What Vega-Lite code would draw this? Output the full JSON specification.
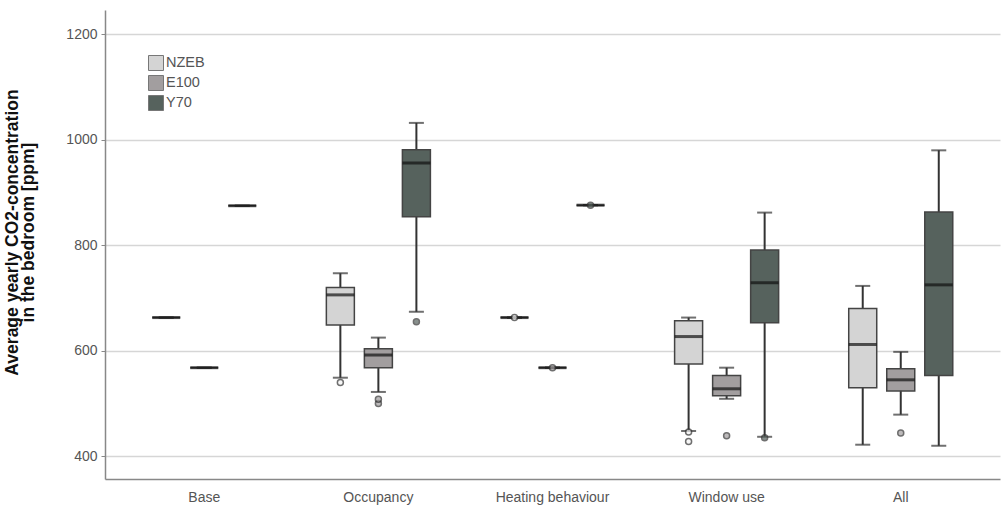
{
  "$schema": "https://vega.github.io/schema/vega-lite/v6.json",
  "autosize": {"type": "none"},
  "padding": {"left": 105, "top": 10, "right": 2, "bottom": 29},
  "width": 895,
  "height": 469,
  "background": "white",
  "config": {
    "view": {"stroke": null},
    "font": "Liberation Sans"
  },
  "datasets": {
    "boxes": [
      {"group": "Base", "type": "NZEB", "lower": 663, "q1": 663, "median": 663, "q3": 663, "upper": 663},
      {"group": "Base", "type": "E100", "lower": 568, "q1": 568, "median": 568, "q3": 568, "upper": 568},
      {"group": "Base", "type": "Y70", "lower": 875, "q1": 875, "median": 875, "q3": 875, "upper": 875},
      {"group": "Occupancy", "type": "NZEB", "lower": 549, "q1": 649, "median": 706, "q3": 720, "upper": 747},
      {"group": "Occupancy", "type": "E100", "lower": 522, "q1": 568, "median": 592, "q3": 604, "upper": 625},
      {"group": "Occupancy", "type": "Y70", "lower": 674, "q1": 854, "median": 956, "q3": 981, "upper": 1032},
      {"group": "Heating behaviour", "type": "NZEB", "lower": 663, "q1": 663, "median": 663, "q3": 663, "upper": 663},
      {"group": "Heating behaviour", "type": "E100", "lower": 568, "q1": 568, "median": 568, "q3": 568, "upper": 568},
      {"group": "Heating behaviour", "type": "Y70", "lower": 876, "q1": 876, "median": 876, "q3": 876, "upper": 876},
      {"group": "Window use", "type": "NZEB", "lower": 448, "q1": 575, "median": 627, "q3": 657, "upper": 663},
      {"group": "Window use", "type": "E100", "lower": 509, "q1": 515, "median": 528, "q3": 553, "upper": 568},
      {"group": "Window use", "type": "Y70", "lower": 437, "q1": 653, "median": 729, "q3": 791, "upper": 862},
      {"group": "All", "type": "NZEB", "lower": 422, "q1": 530, "median": 612, "q3": 680, "upper": 723},
      {"group": "All", "type": "E100", "lower": 479, "q1": 524, "median": 545, "q3": 566, "upper": 598},
      {"group": "All", "type": "Y70", "lower": 420, "q1": 553, "median": 725, "q3": 863, "upper": 980}
    ],
    "outliers": [
      {"group": "Occupancy", "type": "NZEB", "value": 540},
      {"group": "Occupancy", "type": "E100", "value": 500},
      {"group": "Occupancy", "type": "E100", "value": 508},
      {"group": "Occupancy", "type": "Y70", "value": 655},
      {"group": "Heating behaviour", "type": "NZEB", "value": 663},
      {"group": "Heating behaviour", "type": "E100", "value": 568},
      {"group": "Heating behaviour", "type": "Y70", "value": 876},
      {"group": "Window use", "type": "NZEB", "value": 446},
      {"group": "Window use", "type": "NZEB", "value": 428},
      {"group": "Window use", "type": "E100", "value": 439},
      {"group": "Window use", "type": "Y70", "value": 435},
      {"group": "All", "type": "E100", "value": 444}
    ]
  },
  "encoding": {
    "x": {
      "field": "group", "type": "nominal",
      "sort": ["Base", "Occupancy", "Heating behaviour", "Window use", "All"],
      "scale": {"paddingInner": 0, "paddingOuter": 0.07},
      "axis": {
        "title": null, "labelAngle": 0, "ticks": false, "grid": false,
        "domainColor": "#888", "domainWidth": 1.5,
        "labelColor": "#555", "labelFontSize": 14, "labelPadding": 11
      }
    },
    "xOffset": {
      "field": "type", "type": "nominal",
      "sort": ["NZEB", "E100", "Y70"],
      "scale": {"paddingInner": 0, "paddingOuter": 0.79}
    }
  },
  "layer": [
    {
      "data": {"name": "boxes"},
      "mark": {"type": "rule", "color": "#333", "strokeWidth": 2},
      "encoding": {
        "y": {
          "field": "lower", "type": "quantitative",
          "scale": {"domain": [357, 1246], "nice": false, "zero": false},
          "axis": {
            "values": [400, 600, 800, 1000, 1200],
            "format": "d",
            "title": ["Average yearly CO2-concentration", "in the bedroom [ppm]"],
            "titleFontSize": 17.5, "titleFontWeight": "bold", "titleColor": "#111",
            "titleX": -84, "titleY": 222, "titleLineHeight": 16.5,
            "grid": true, "gridColor": "#d6d6d6", "gridWidth": 1.5,
            "domainColor": "#888", "domainWidth": 1.5,
            "tickColor": "#888", "tickSize": 4,
            "labelColor": "#555", "labelFontSize": 14, "labelPadding": 4
          }
        },
        "y2": {"field": "upper"}
      }
    },
    {
      "data": {"name": "boxes"},
      "mark": {"type": "tick", "color": "#333", "size": 15, "thickness": 2},
      "encoding": {"y": {"field": "lower", "type": "quantitative"}}
    },
    {
      "data": {"name": "boxes"},
      "mark": {"type": "tick", "color": "#333", "size": 15, "thickness": 2},
      "encoding": {"y": {"field": "upper", "type": "quantitative"}}
    },
    {
      "data": {"name": "boxes"},
      "mark": {"type": "bar", "width": 28, "stroke": "#444", "strokeWidth": 1.5},
      "encoding": {
        "y": {"field": "q1", "type": "quantitative"},
        "y2": {"field": "q3"},
        "color": {
          "field": "type", "type": "nominal",
          "scale": {"domain": ["NZEB", "E100", "Y70"], "range": ["#d4d4d4", "#a29e9f", "#56625d"]},
          "legend": {
            "title": null, "orient": "none", "legendX": 43, "legendY": 45,
            "symbolType": "square", "symbolSize": 225, "symbolStrokeColor": "#777",
            "symbolStrokeWidth": 1, "labelFontSize": 14.5, "labelColor": "#555",
            "labelOffset": 2, "rowPadding": 0, "padding": 0
          }
        }
      }
    },
    {
      "data": {"name": "boxes"},
      "mark": {"type": "tick", "color": "#111", "size": 28, "thickness": 3},
      "encoding": {"y": {"field": "median", "type": "quantitative"}}
    },
    {
      "data": {"name": "outliers"},
      "mark": {"type": "point", "shape": "circle", "size": 36, "stroke": "#333", "strokeWidth": 1.5, "filled": false},
      "encoding": {
        "y": {"field": "value", "type": "quantitative"},
        "fill": {"field": "type", "type": "nominal", "scale": {"domain": ["NZEB", "E100", "Y70"], "range": ["#f4f4f4", "#a29e9f", "#56625d"]}, "legend": null}
      }
    }
  ]
}
